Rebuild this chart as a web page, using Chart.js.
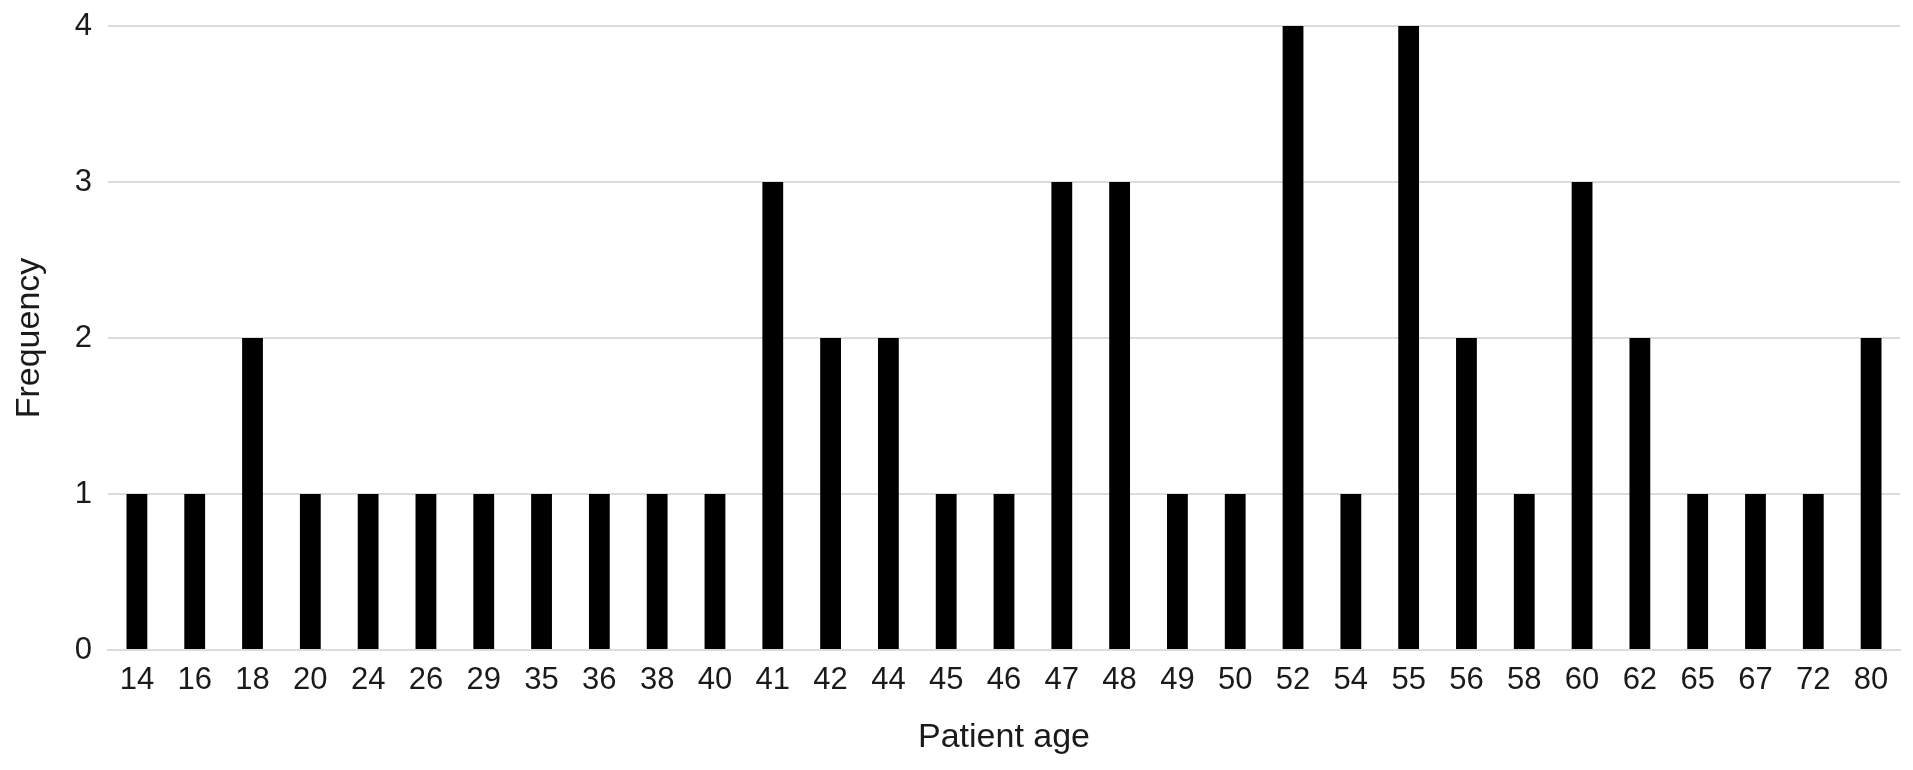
<!DOCTYPE html>
<html>
<head>
<meta charset="utf-8">
<script src="https://cdn.jsdelivr.net/npm/chart.js@4/dist/chart.umd.min.js"></script>
<style>
  html, body { margin: 0; padding: 0; background: #fff; }
  #wrap { width: 1913px; height: 770px; position: relative; }
</style>
</head>
<body>
<div id="wrap"><canvas id="chartAge"></canvas></div>
<script>
const ages = ['14', '16', '18', '20', '24', '26', '29', '35', '36', '38', '40', '41', '42', '44', '45', '46',
  '47', '48', '49', '50', '52', '54', '55', '56', '58', '60', '62', '65', '67', '72', '80'];
const frequency = [1, 1, 2, 1, 1, 1, 1, 1, 1, 1, 1, 3, 2, 2, 1, 1,
  3, 3, 1, 1, 4, 1, 4, 2, 1, 3, 2, 1, 1, 1, 2];
const yTicks = [0, 1, 2, 3, 4];

const fontFamily = '"Liberation Sans", Arial, Helvetica, sans-serif';
const gridColor = '#dcdcdc';
const textColor = '#1a1a1a';

new Chart(document.getElementById('chartAge'), {
  type: 'bar',
  data: {
    labels: ages,
    datasets: [{
      label: 'Frequency',
      data: frequency,
      backgroundColor: '#000000',
      borderWidth: 0,
      barPercentage: 0.36,
      categoryPercentage: 1,
    }],
  },
  options: {
    responsive: true,
    maintainAspectRatio: false,
    animation: false,
    layout: { padding: { top: 26, right: 13, bottom: 0, left: 0 } },
    plugins: { legend: { display: false }, tooltip: { enabled: false } },
    scales: {
      x: {
        grid: { display: false },
        border: { display: true, color: gridColor, width: 2 },
        ticks: { color: textColor, font: { family: fontFamily, size: 31 }, padding: 4, maxRotation: 0, autoSkip: false },
        title: { display: true, text: 'Patient age', color: textColor, font: { family: fontFamily, size: 34 }, padding: { top: 0, bottom: 12 } },
        afterFit: (scale) => { scale.height = 120; },
      },
      y: {
        min: 0,
        max: 4,
        afterBuildTicks: (scale) => { scale.ticks = yTicks.map((v) => ({ value: v })); },
        grid: { color: gridColor, lineWidth: 2, drawTicks: false },
        border: { display: false },
        ticks: { color: textColor, font: { family: fontFamily, size: 31 }, padding: 16 },
        title: { display: true, text: 'Frequency', color: textColor, font: { family: fontFamily, size: 34 }, padding: { top: 9, bottom: 0 } },
        afterFit: (scale) => {
          scale.width = 108;
          scale.paddingTop = 0;
          scale.paddingBottom = 0;
        },
      },
    },
  },
});
</script>
</body>
</html>
